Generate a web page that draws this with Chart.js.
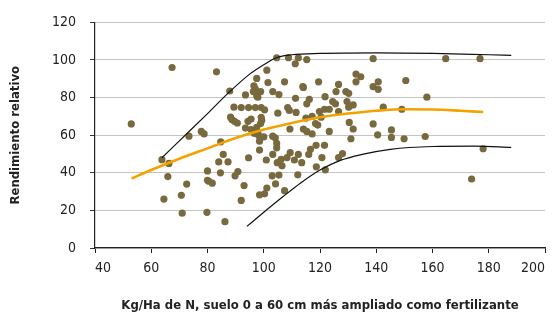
<!DOCTYPE html>
<html>
<head>
<meta charset="utf-8">
<script src="https://cdn.jsdelivr.net/npm/chart.js@4"></script>
<style>
  html, body { margin: 0; padding: 0; background: #fff; }
  #wrap { width: 552px; height: 315px; }
</style>
</head>
<body>
<div id="wrap"><canvas id="myChart"></canvas></div>
<script>
// Observations: N available (kg/ha) vs relative yield
var obsX = [52.9,63.8,66.3,65.9,64.5,67.4,72.6,70.7,71,73.4,77.8,78.8,80,80,80.5,81.7,79.8,83.2,84.7,85.6,84,84.6,87.3,86.2,87.9,
  104.6,108.8,112.3,111.2,101.1,97.5,101.5,107.4,96.5,97,96.3,98.9,97.5,97.9,93.5,103.2,105.4,114.1,89.4,92,94.6,97,99.1,100.3,105,108.5,109.1,111.5,
  88.2,88.7,89.6,90.6,95.5,94.4,99.1,99.3,93.5,97.5,98.9,95.5,96.7,97.9,98.2,100,103.2,104.1,104.6,109.3,114.1,
  98.5,104.6,94.6,98.5,103.2,100.9,104.8,106.2,108.3,109.4,112.3,106.5,110.9,113.5,90.8,89.8,103,105.4,112.1,93,104.2,101.1,98.5,100.3,92,107.4,
  115.3,138.9,113.9,119.5,126.6,125.7,129.2,130.2,132.8,134.5,132.8,138.9,140.7,140.7,116.2,111.3,121.8,115.3,124.5,125.5,129.6,131.8,130.2,
  121.6,119.8,123.3,126.6,115,117.2,120.4,115.3,117.2,118.4,119.2,123.3,130.4,131.8,131,138.9,140.5,118.6,121.6,
  116.6,116,120.7,118.7,121.9,126.6,128,
  164.7,176.9,150.5,158,142.5,149.1,145.4,145.4,149.9,157.4,178,173.9];
var obsY = [66,47,45,38,26,96,34,28,18.5,59.5,62,60.7,41,36,35.5,34.5,19,93.7,56.5,49.8,45.8,40,45.8,14,83.5,
  101.2,101.2,101.2,98,94.6,90.2,88,88.4,86.3,84.6,83.2,83.2,80.9,80.2,81.4,83.2,81.6,85.4,74.9,74.7,74.7,74.7,74.7,73.5,71.7,74.7,73.2,72.1,
  69.6,68.3,67.4,66.5,68.6,67.4,69.5,67.9,63.8,64.2,66.2,63,60.9,61.2,59.8,59.1,59.5,58.6,55.6,63.3,63.3,
  56.8,53.3,48,52.1,49.8,46.8,45.4,47.2,48.1,50.7,49.8,43.7,46.8,45.4,40.7,38.4,38.4,38.8,38.9,33.2,34.1,31.9,28.3,28.8,25.3,30.5,
  100.2,100.7,85.8,88.4,87,83.2,83.2,82.3,92.5,91.1,88.4,85.8,88.4,84.4,79.1,79.6,80.5,76.7,77.9,76.7,77.9,76.1,74.9,
  73.8,72.6,73.8,72.6,69.1,70,69.6,62,60.7,66.2,65.4,62,66.8,63.3,58.1,66,60.2,54.6,54.6,
  52.5,49.8,48.1,43.2,41.6,48.1,50.2,
  100.7,100.7,89.1,80.2,74.9,73.8,62.8,58.8,58.1,59.3,52.8,36.7];

// Fitted response curve (orange)
var fitX = [53,60,70,80,90,100,110,120,130,140,150,160,170,178];
var fitY = [37,41.5,47.5,53,58.5,63,66.5,69.5,71.5,73,73.8,73.7,73,72.3];

// Upper and lower envelopes (black)
var upperX = [63.8,70,80,88,95,100,104.5,110,120,140,160,180,188];
var upperY = [48,57,71.5,83.3,92.5,97.5,101.2,102.8,103.5,103.8,103.5,102.8,102.5];
var lowerX = [94,100,107,113,120,127,135,145,160,175,188];
var lowerY = [11.5,19,27.5,34.5,41.5,46.5,49.8,52.5,54,54.2,53.5];

var xMin = 40, xMax = 200, xStep = 20;
var yMin = 0, yMax = 120, yStep = 20;

function pairs(xs, ys) {
  return xs.map(function (x, i) { return { x: x, y: ys[i] }; });
}

var fontFam = "'Liberation Sans Narrow', 'DejaVu Sans Condensed', 'Liberation Sans', sans-serif";

var ctx = document.getElementById("myChart");
var myChart = new Chart(ctx, {
  type: 'scatter',
  data: {
    datasets: [
      {
        data: pairs(upperX, upperY),
        showLine: true,
        borderColor: "#111",
        borderWidth: 1.2,
        pointRadius: 0,
        tension: 0.4,
        cubicInterpolationMode: 'monotone',
        order: 0
      },
      {
        data: pairs(lowerX, lowerY),
        showLine: true,
        borderColor: "#111",
        borderWidth: 1.2,
        pointRadius: 0,
        tension: 0.4,
        cubicInterpolationMode: 'monotone',
        order: 0
      },
      {
        data: pairs(fitX, fitY),
        showLine: true,
        borderColor: "#f4a200",
        borderWidth: 2.6,
        pointRadius: 0,
        tension: 0.4,
        cubicInterpolationMode: 'monotone',
        order: 0
      },
      {
        data: pairs(obsX, obsY),
        backgroundColor: "#78693f",
        borderWidth: 0,
        pointRadius: 3.6,
        order: 1
      }
    ]
  },
  options: {
    responsive: true,
    maintainAspectRatio: false,
    animation: false,
    layout: { padding: { top: 19, right: 6, left: 0, bottom: 2 } },
    plugins: { legend: { display: false }, tooltip: { enabled: false } },
    scales: {
      x: {
        type: 'linear',
        min: xMin, max: xMax,
        afterFit: function (s) { s.height = 65; },
        ticks: {
          stepSize: xStep,
          align: 'inner',
          padding: 7,
          color: "#222",
          font: { family: fontFam, size: 14 }
        },
        grid: { display: true, drawOnChartArea: false, tickLength: 5, color: "#222", tickColor: "#222" },
        border: { color: "#222", width: 1.2 },
        title: {
          display: true,
          text: "Kg/Ha de N, suelo 0 a 60 cm más ampliado como fertilizante",
          color: "#222",
          padding: { top: 10, bottom: 0 },
          font: { family: fontFam, size: 13, weight: 'bold' }
        }
      },
      y: {
        min: yMin, max: yMax,
        afterFit: function (s) { s.width = 95; },
        ticks: {
          stepSize: yStep,
          padding: 14,
          color: "#222",
          font: { family: fontFam, size: 14 }
        },
        grid: { color: "#c4c4c4", lineWidth: 1, tickLength: 5, tickColor: "#333" },
        border: { color: "#222", width: 1.2 },
        title: {
          display: true,
          text: "Rendimiento relativo",
          color: "#222",
          padding: { top: 8, bottom: 0 },
          font: { family: fontFam, size: 13, weight: 'bold' }
        }
      }
    }
  }
});
</script>
</body>
</html>
